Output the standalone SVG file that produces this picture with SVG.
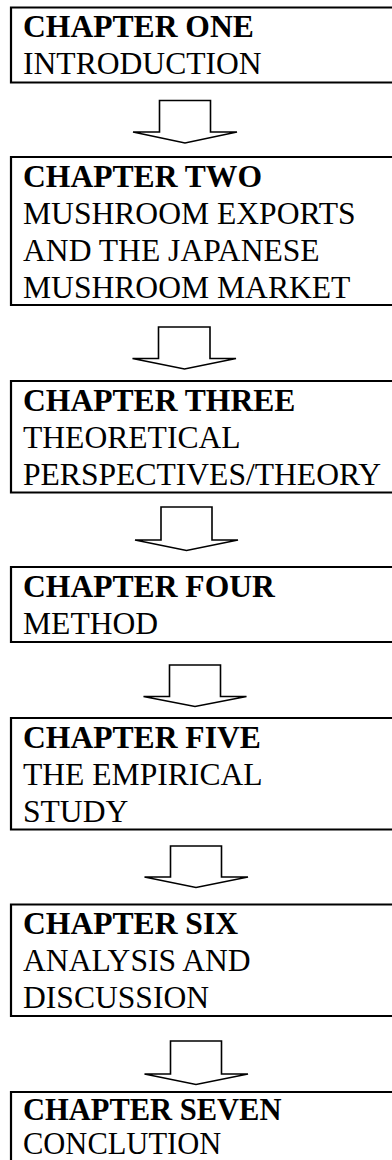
<svg xmlns="http://www.w3.org/2000/svg" width="392" height="1160" viewBox="0 0 392 1160">
<style>
.box{fill:none;stroke:#000;stroke-width:2.2}
.arr{fill:#fff;stroke:#000;stroke-width:1.6;stroke-linejoin:miter}
text{font-family:"Liberation Serif","Times New Roman",serif;font-size:31.6px;fill:#000}
.b{font-weight:bold}
.s{font-size:30.5px}
</style>
<rect width="392" height="1160" fill="#fff"/>
<g id="connectors">
<polygon class="arr" points="159.5,100.5 210.5,100.5 210.5,132 237,132 185,143 133,132 159.5,132"/>
<polygon class="arr" points="158.5,327 210,327 210,358.5 236,358.5 184.5,369 132.5,358.5 158.5,358.5"/>
<polygon class="arr" points="161,507 212,507 212,540 238,540 186.5,550.5 135,540 161,540"/>
<polygon class="arr" points="169.5,665 220.5,665 220.5,696.5 246.5,696.5 195,706.5 143.5,696.5 169.5,696.5"/>
<polygon class="arr" points="170.5,846 221.5,846 221.5,877 248,877 196,887.5 144.5,877 170.5,877"/>
<polygon class="arr" points="170.5,1041 221.5,1041 221.5,1074 248,1074 196,1084.5 144.5,1074 170.5,1074"/>
</g>
<g id="ch1">
<path class="box" d="M393,7.5 H11 V82.5 H393"/>
<text x="23" y="37" class="b">CHAPTER ONE</text>
<text x="23" y="74">INTRODUCTION</text>
</g>
<g id="ch2">
<path class="box" d="M393,157 H11 V305 H393"/>
<text x="23" y="186.5" class="b">CHAPTER TWO</text>
<text x="23" y="223.5">MUSHROOM EXPORTS</text>
<text x="23" y="260.5">AND THE JAPANESE</text>
<text x="23" y="297.5">MUSHROOM MARKET</text>
</g>
<g id="ch3">
<path class="box" d="M393,381 H11 V492.5 H393"/>
<text x="23" y="410.5" class="b">CHAPTER THREE</text>
<text x="23" y="447.5">THEORETICAL</text>
<text x="23" y="484.5">PERSPECTIVES/THEORY</text>
</g>
<g id="ch4">
<path class="box" d="M393,567 H11 V642 H393"/>
<text x="23" y="596.5" class="b">CHAPTER FOUR</text>
<text x="23" y="633.5">METHOD</text>
</g>
<g id="ch5">
<path class="box" d="M393,718 H11 V829.5 H393"/>
<text x="23" y="747.5" class="b">CHAPTER FIVE</text>
<text x="23" y="784.5">THE EMPIRICAL</text>
<text x="23" y="821.5">STUDY</text>
</g>
<g id="ch6">
<path class="box" d="M393,904.5 H11 V1016 H393"/>
<text x="23" y="934" class="b">CHAPTER SIX</text>
<text x="23" y="971">ANALYSIS AND</text>
<text x="23" y="1008">DISCUSSION</text>
</g>
<g id="ch7">
<path class="box" d="M393,1092 H11 V1162"/>
<text x="23" y="1120" class="b s">CHAPTER SEVEN</text>
<text x="23" y="1153.5" class="s">CONCLUTION</text>
</g>
</svg>
